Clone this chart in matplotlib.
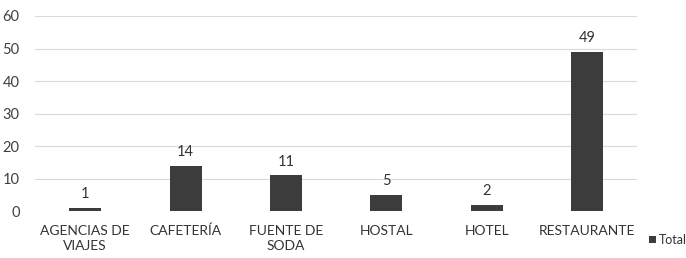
import matplotlib
matplotlib.use("Agg")
from matplotlib import pyplot as plt
import numpy as np

categories = ["AGENCIAS DE\nVIAJES", "CAFETERÍA", "FUENTE DE\nSODA", "HOSTAL", "HOTEL", "RESTAURANTE"]
totals = [1, 14, 11, 5, 2, 49]
y_ticks = [0, 10, 20, 30, 40, 50, 60]

plt.rcParams['font.family'] = ['Lato', 'DejaVu Sans']

fig = plt.figure(figsize=(6.86, 2.58), dpi=100)
ax = fig.add_axes([0.051, 0.182, 0.878, 0.756])

x = np.arange(len(categories))
bars = ax.bar(x, totals, width=0.32, color="#3c3c3c", label="Total", zorder=3)
for xi, v in zip(x, totals):
    ax.text(xi, v + 2, str(v), ha="center", va="bottom", fontsize=10.5, color="#333333")

ax.set_xlim(-0.5, len(categories) - 0.5)
ax.set_ylim(0, 60)
ax.set_yticks(y_ticks)
ax.set_xticks(x)
ax.set_xticklabels(categories, fontsize=10, color="#333333", linespacing=1.3)
ax.tick_params(axis="y", labelsize=10.5, labelcolor="#404040", length=0, pad=11)
ax.tick_params(axis="x", length=0, pad=10)
ax.grid(axis="y", color="#d9d9d9", linewidth=0.8, zorder=0)
for s in ax.spines.values():
    s.set_visible(False)

leg = fig.legend(handles=[bars], labels=["Total"], loc="center left",
                 bbox_to_anchor=(0.937, 0.07), frameon=False, fontsize=9,
                 handlelength=0.55, handleheight=0.55, handletextpad=0.25, borderpad=0)
for t in leg.get_texts():
    t.set_color("#333333")

fig.savefig("out.png", dpi=100)
